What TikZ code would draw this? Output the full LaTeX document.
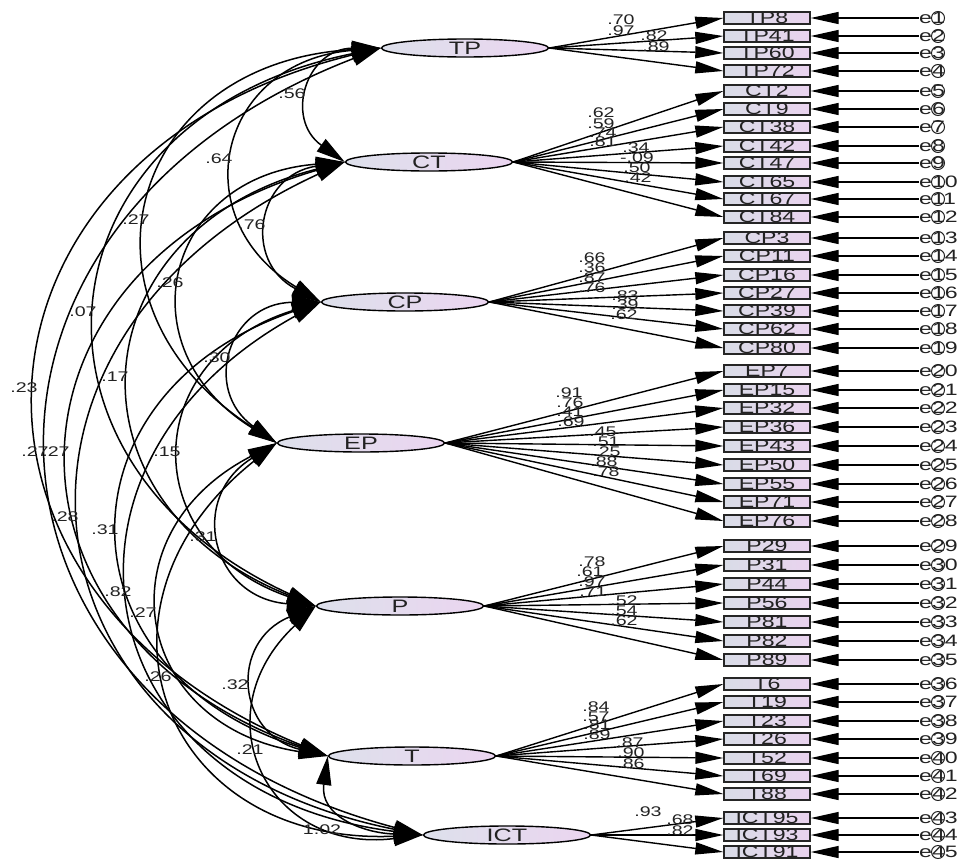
\documentclass[tikz,border=0pt]{standalone}
\usepackage{fontspec}
\setmainfont{Liberation Sans}
\usepackage{graphicx}
\usetikzlibrary{shapes.geometric,arrows.meta}
\newcommand\hstr[1]{\scalebox{1.4}[1]{#1}}
\definecolor{fillL}{HTML}{DDE0EB}
\definecolor{fillR}{HTML}{EBD5F0}
\definecolor{boxL}{HTML}{D9DCE7}
\definecolor{boxR}{HTML}{E9D3EE}
\definecolor{txt}{HTML}{222222}
\begin{document}
\begin{tikzpicture}[x=1pt,y=-1pt,
  lat/.style={ellipse, draw=black, line width=1.4pt, left color=fillL, right color=fillR,
    minimum width=167pt, minimum height=18pt, inner sep=0pt,
    font=\fontsize{18}{18}\selectfont, text=txt},
  ind/.style={rectangle, draw=black!85, line width=1.4pt, left color=boxL, right color=boxR,
    minimum width=86pt, minimum height=12pt, inner sep=0pt,
    font=\fontsize{16.5}{16.5}\selectfont, text=txt},
  etxt/.style={anchor=west, inner sep=0pt, font=\fontsize{16.5}{16.5}\selectfont, text=txt},
  ecir/.style={circle, draw=txt, line width=1pt, minimum size=13pt, inner sep=0pt},
  lbl/.style={inner sep=0pt, font=\fontsize{14}{14}\selectfont, text=txt},
  ldarr/.style={-{Triangle[length=28pt,width=12pt]}, line width=1.4pt},
  covarr/.style={{Triangle[length=29pt,width=15pt]}-{Triangle[length=29pt,width=15pt]}, line width=1.5pt}
]
\useasboundingbox (0,0) rectangle (968,862);

% latent factors
\node[lat] (TP)  at (465,48)  {\hstr{TP}};
\node[lat] (CT)  at (429,162) {\hstr{CT}};
\node[lat] (CP)  at (405,302) {\hstr{CP}};
\node[lat] (EP)  at (361,443) {\hstr{EP}};
\node[lat] (P)   at (400,606) {\hstr{P}};
\node[lat] (T)   at (412,756) {\hstr{T}};
\node[lat] (ICT) at (507,835) {\hstr{ICT}};

% indicators, errors, loadings
\foreach \nm/\yy/\f [count=\i] in {
  TP8/18/TP, TP41/36/TP, TP60/53/TP, TP72/71/TP,
  CT2/91/CT, CT9/109/CT, CT38/127/CT, CT42/146/CT, CT47/163/CT, CT65/182/CT, CT67/199/CT, CT84/217/CT,
  CP3/238/CP, CP11/256/CP, CP16/275/CP, CP27/293/CP, CP39/311/CP, CP62/329/CP, CP80/348/CP,
  EP7/371/EP, EP15/390/EP, EP32/408/EP, EP36/427/EP, EP43/446/EP, EP50/465/EP, EP55/484/EP, EP71/502/EP, EP76/521/EP,
  P29/546/P, P31/565/P, P44/584/P, P56/603/P, P81/622/P, P82/641/P, P89/660/P,
  T6/684/T, T19/702/T, T23/721/T, T26/739/T, T52/758/T, T69/776/T, T88/794/T,
  ICT95/818/ICT, ICT93/835/ICT, ICT91/852/ICT} {
  \node[ind] (b\i) at (767,\yy) {\hstr{\nm}};
  \node[ecir] (c\i) at (938,\yy) {};
  \node[etxt] (e\i) at (919,\yy) {\hstr{e\i}};
  \draw[ldarr] (\f.east) -- (b\i.west);
  \draw[ldarr] (e\i.west) -- (b\i.east);
}

% loading labels
\foreach \xx/\yy/\t [count=\k] in {
  621/20/.70, 621/31/.97, 654/36/.82, 656/47/.89,
  601/113/.62, 601/124/.59, 603/133/.74, 603/142/.81, 636/148/.34, 637/158/-.09, 637/168/.50, 638/178/.42,
  592/258/.66, 592/268/.36, 592/278/.87, 592/288/.76, 625/296/.83, 625/305/.39, 624/315/.62,
  569/393/.91, 570/403/.76, 570/412/.41, 571/422/.69, 603/432/.45, 606/442/.51, 607/452/.25, 604/462/.88, 606/472/.78,
  592/562/.78, 590/572/.61, 592/582/.97, 593/592/.71, 624/601/.52, 624/611/.54, 624/621/.62,
  596/707/.84, 596/717/.57, 597/725/.81, 597/735/.89, 630/743/.87, 631/753/.90, 631/764/.86,
  648/812/.93, 680/820/.68, 680/831/.82} {
  \node[lbl] (ll\k) at (\xx,\yy) {\hstr{\t}};
}

% covariances
\foreach \a/\b in {TP/CT, TP/CP, TP/EP, TP/P, TP/T, TP/ICT,
  CT/CP, CT/EP, CT/P, CT/T, CT/ICT,
  CP/EP, CP/P, CP/T, CP/ICT,
  EP/P, EP/T, EP/ICT,
  P/T, P/ICT} {
  \draw[covarr] (\a.west) to[bend right=72, looseness=1.6] (\b.west);
}
\draw[covarr] (T.west) to[out=262, in=178, looseness=1.25] (ICT.west);

% covariance labels
\foreach \xx/\yy/\t [count=\k] in {
  292/94/.56, 219/159/.64, 136/220/.27, 252/225/.76, 170/283/.26, 83/312/.07,
  217/358/.30, 115/377/.17, 24/388/.23, 35/452/.27, 56/452/.27, 167/452/.15,
  65/517/.28, 105/530/.31, 203/537/.31, 118/592/.82, 143/613/.27, 158/677/.26,
  235/685/.32, 250/750/.21, 322/830/1.02} {
  \node[lbl] (cl\k) at (\xx,\yy) {\hstr{\t}};
}
\end{tikzpicture}
\end{document}
